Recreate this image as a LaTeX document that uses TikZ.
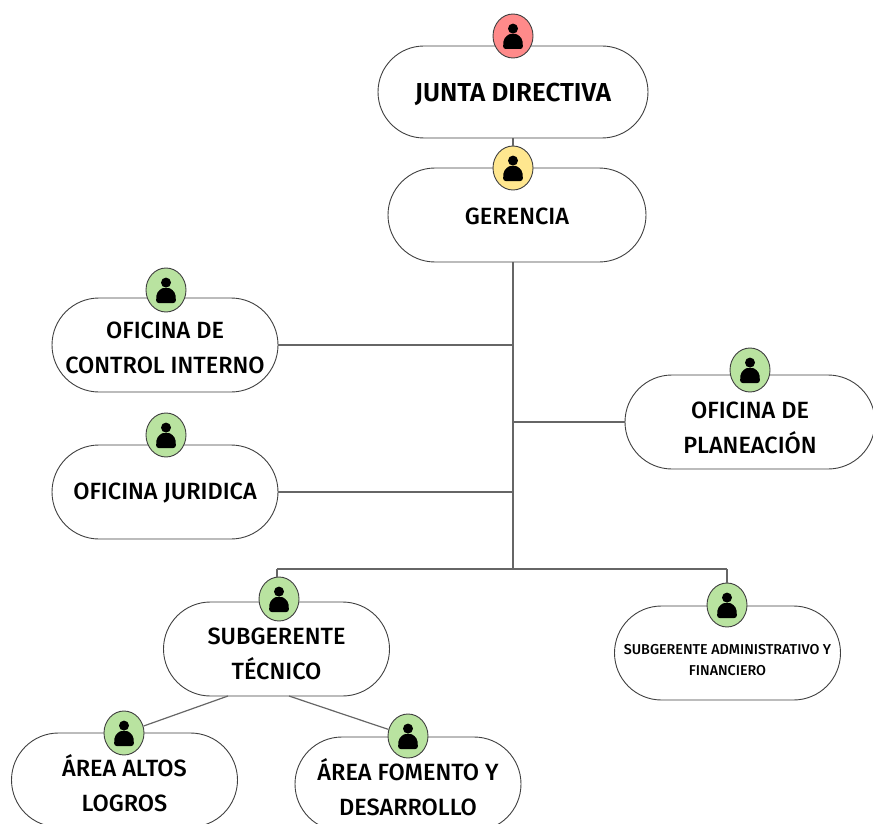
\documentclass[tikz,border=0pt]{standalone}
\usepackage{fontspec}
\setmainfont{Fira Sans}[UprightFont=* Medium, BoldFont=* SemiBold]
\usetikzlibrary{shapes.misc, shapes.geometric}
\definecolor{colorRed}{HTML}{FF8A8A}
\definecolor{colorYellow}{HTML}{FFE78F}
\definecolor{colorGreen}{HTML}{B9E3A0}
\colorlet{colorLine}{black!60}
\tikzset{
  area/.style={draw=black!75, line width=0.9pt, fill=white, rounded rectangle, minimum width=226pt, minimum height=94pt, align=center, inner sep=0pt, font=\fontsize{23.5}{35}\selectfont},
  badge/.style={draw=black!75, line width=0.9pt, ellipse, minimum width=40pt, minimum height=44pt, inner sep=0pt},
  link/.style={colorLine, line width=1.2pt},
}
\newcommand{\lift}[1]{\rule{0pt}{#1}}
\newcommand{\person}[1]{
  \fill[black] ([yshift=7.4pt]#1.center) circle (5pt);
  \fill[black, rounded corners=2.5pt] ([xshift=-9.8pt,yshift=-13pt]#1.center) -- ([xshift=-9.8pt,yshift=-8pt]#1.center) .. controls ([xshift=-9pt,yshift=-1pt]#1.center) and ([xshift=-4pt,yshift=2pt]#1.center) .. ([yshift=2pt]#1.center) .. controls ([xshift=4pt,yshift=2pt]#1.center) and ([xshift=9pt,yshift=-1pt]#1.center) .. ([xshift=9.8pt,yshift=-8pt]#1.center) -- ([xshift=9.8pt,yshift=-13pt]#1.center) -- cycle;
}
\begin{document}
\begin{tikzpicture}[x=1pt, y=-1pt]
\useasboundingbox (0,0) rectangle (873,824);
\clip (0,0) rectangle (873,824);
% connectors first
\coordinate (jTop) at (513,262);
\coordinate (jControl) at (513,345);
\coordinate (jPlan) at (513,422);
\coordinate (jJuri) at (513,492);
\coordinate (jBase) at (513,569);
\coordinate (jTec) at (277,569);
\coordinate (jAdm) at (727,569);
\coordinate (tecLeft) at (228,696);
\coordinate (tecRight) at (289,696);
\node[area, minimum width=270pt, minimum height=92pt, font=\fontsize{26}{35}\selectfont\bfseries] (junta) at (513,92) {\lift{24pt}JUNTA DIRECTIVA};
\node[area, minimum width=258pt] (gerencia) at (517,215) {\lift{19pt}GERENCIA};
\node[area] (control) at (165,345) {\lift{22pt}OFICINA DE\\CONTROL INTERNO};
\node[area] (juridica) at (165,492) {\lift{19pt}OFICINA JURIDICA};
\node[area, minimum width=250pt] (planeacion) at (750,422) {\lift{29pt}OFICINA DE\\PLANEACIÓN};
\node[area] (tecnico) at (276.5,649) {\lift{27pt}SUBGERENTE\\TÉCNICO};
\node[area, font=\fontsize{14.3}{21}\selectfont] (admin) at (727.5,653) {\lift{24pt}SUBGERENTE ADMINISTRATIVO Y\\FINANCIERO};
\node[area] (altos) at (124.5,780) {\lift{29pt}ÁREA ALTOS\\LOGROS};
\node[area] (fomento) at (408,784) {\lift{28pt}ÁREA FOMENTO Y\\DESARROLLO};
\node[badge, fill=colorRed] (bJunta) at (513,36) {};
\node[badge, fill=colorYellow] (bGerencia) at (513,168) {};
\node[badge, fill=colorGreen] (bControl) at (166,290) {};
\node[badge, fill=colorGreen] (bJuridica) at (166,435) {};
\node[badge, fill=colorGreen] (bPlan) at (750,370) {};
\node[badge, fill=colorGreen] (bTecnico) at (279,599) {};
\node[badge, fill=colorGreen] (bAdmin) at (727,605) {};
\node[badge, fill=colorGreen] (bAltos) at (124,733) {};
\node[badge, fill=colorGreen] (bFomento) at (408,736) {};
\foreach \b in {bJunta, bGerencia, bControl, bJuridica, bPlan, bTecnico, bAdmin, bAltos, bFomento} {
  \person{\b}
}
\draw[link] (junta.south -| bJunta) -- (bGerencia);
\draw[link] (jTop) -- (jBase);
\draw[link] (control.east) -- (jControl);
\draw[link] (planeacion.west) -- (jPlan);
\draw[link] (juridica.east) -- (jJuri);
\draw[link] (jTec) -- (jAdm);
\draw[link] (jTec) -- (bTecnico.north -| jTec);
\draw[link] (jAdm) -- (bAdmin.north);
\draw[link] (tecLeft) -- (bAltos);
\draw[link] (tecRight) -- (bFomento);
\end{tikzpicture}
\end{document}
